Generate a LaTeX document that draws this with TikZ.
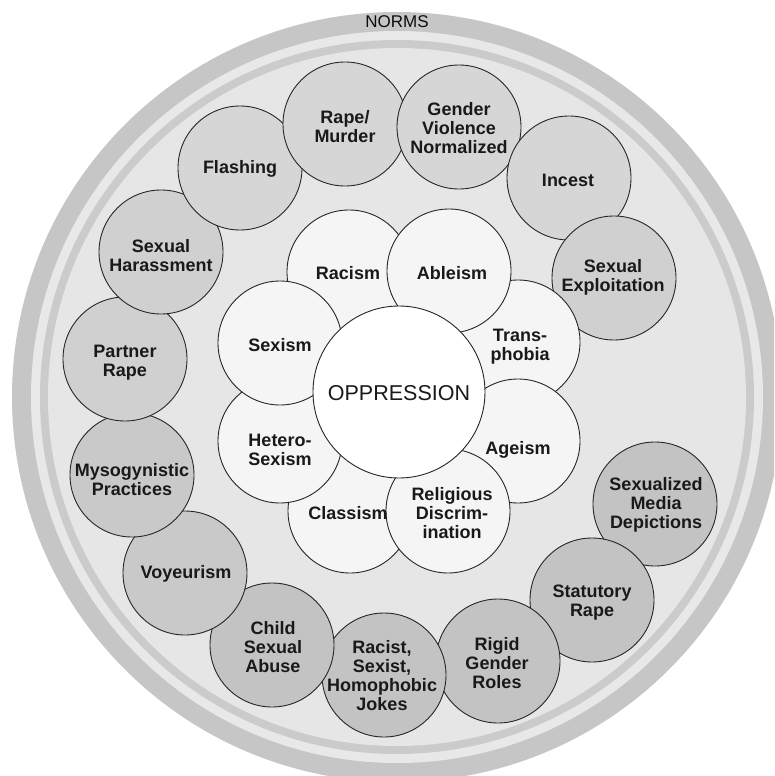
\documentclass[tikz,border=0pt]{standalone}
\usepackage{fontspec}
\setmainfont{Liberation Sans}
\definecolor{bandout}{HTML}{C6C6C6}
\definecolor{bandlight}{HTML}{E8E8E8}
\definecolor{bandring}{HTML}{CBCBCB}
\definecolor{discbg}{HTML}{E6E6E6}
\definecolor{petal}{HTML}{F5F5F5}
\definecolor{gA}{HTML}{D6D6D6}
\definecolor{gB}{HTML}{D0D0D0}
\definecolor{gC}{HTML}{C9C9C9}
\definecolor{gD}{HTML}{C3C3C3}
\begin{document}
\begin{tikzpicture}[x=1pt,y=-1pt,
  outc/.style={circle, draw=black!85, line width=0.9pt, minimum size=124pt, inner sep=0pt},
  petalc/.style={circle, draw=black!85, line width=0.9pt, minimum size=124pt, inner sep=0pt, fill=petal},
  lab/.style={align=center, font=\fontsize{18}{19}\selectfont\bfseries, inner sep=0pt, text=black!90}]
\useasboundingbox (0,0) rectangle (774,776);
\clip (0,0) rectangle (774,776);
\fill[white] (0,0) rectangle (774,776);
% norms bands
\coordinate (c0) at (397,397);
\fill[bandout] (c0) circle[radius=385];
\fill[bandlight] (c0) circle[radius=366];
\fill[bandring] (c0) circle[radius=357];
\fill[discbg] (c0) circle[radius=349];
\node[font=\fontsize{17}{18}\selectfont, text=black!95, inner sep=0pt] (norms) at (397,22) {NORMS};
% outer ring of circles
\node[outc, fill=gD] (sexmedia) at (655,504) {};
\node[outc, fill=gD] (statutory) at (592,600) {};
\node[outc, fill=gD] (rigid) at (498,661) {};
\node[outc, fill=gD] (jokes) at (384,675) {};
\node[outc, fill=gD] (child) at (272,645) {};
\node[outc, fill=gC] (voyeur) at (185,573) {};
\node[outc, fill=gC] (myso) at (132,475) {};
\node[outc, fill=gB] (partner) at (125,359) {};
\node[outc, fill=gB] (harass) at (161,252) {};
\node[outc, fill=gA] (flash) at (240,168) {};
\node[outc, fill=gA] (rape) at (345,124) {};
\node[outc, fill=gA] (gender) at (459,127) {};
\node[outc, fill=gA] (incest) at (569,178) {};
\node[outc, fill=gB] (exploit) at (614,278) {};
\node[lab] (sexmedia-t) at (656,505) {Sexualized\\Media\\Depictions};
\node[lab] (statutory-t) at (592,603) {Statutory\\Rape};
\node[lab] (rigid-t) at (497,663) {Rigid\\Gender\\Roles};
\node[lab] (jokes-t) at (382,676) {Racist,\\Sexist,\\Homophobic\\Jokes};
\node[lab] (child-t) at (273,647) {Child\\Sexual\\Abuse};
\node[lab] (voyeur-t) at (186,574) {Voyeurism};
\node[lab] (myso-t) at (132,480) {Mysogynistic\\Practices};
\node[lab] (partner-t) at (125,363) {Partner\\Rape};
\node[lab] (harass-t) at (161,256) {Sexual\\Harassment};
\node[lab] (flash-t) at (240,169) {Flashing};
\node[lab] (rape-t) at (345,127) {Rape/\\Murder};
\node[lab] (gender-t) at (459,128) {Gender\\Violence\\Normalized};
\node[lab] (incest-t) at (568,180) {Incest};
\node[lab] (exploit-t) at (613,277) {Sexual\\Exploitation};
% inner petals
\coordinate (oc) at (399,392);
\node[petalc] (racism) at (349,272) {};
\node[petalc] (trans) at (518,342) {};
\node[petalc] (ageism) at (518,441) {};
\node[petalc] (classism) at (350,511) {};
\node[petalc] (ableism) at (449,271) {};
\node[petalc] (relig) at (448,511) {};
\node[petalc] (hetero) at (280,441) {};
\node[petalc] (sexism) at (280,343) {};
\node[circle, draw=black!85, line width=0.9pt, fill=white, minimum size=172pt, inner sep=0pt] (opp) at (oc) {};
\node[lab] (racism-t) at (348,273) {Racism};
\node[lab] (ableism-t) at (452,273) {Ableism};
\node[lab] (trans-t) at (520,347) {Trans-\\phobia};
\node[lab] (ageism-t) at (518,450) {Ageism};
\node[lab] (relig-t) at (452,513) {Religious\\Discrim-\\ination};
\node[lab] (classism-t) at (348,513) {Classism};
\node[lab] (hetero-t) at (280,450) {Hetero-\\Sexism};
\node[lab] (sexism-t) at (280,345) {Sexism};
\node[font=\fontsize{21.5}{24}\selectfont, text=black!90, inner sep=0pt] (opp-t) at (399,393) {OPPRESSION};
\end{tikzpicture}
\end{document}
